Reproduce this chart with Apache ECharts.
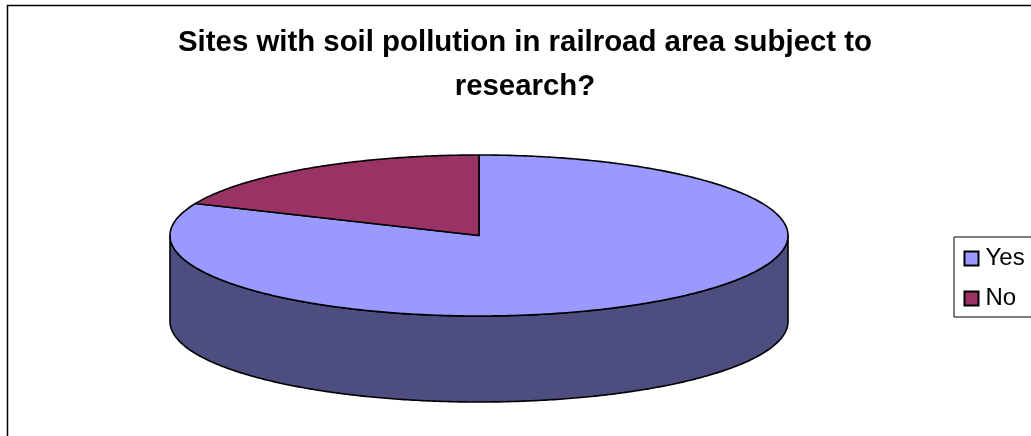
<!DOCTYPE html>
<html>
<head>
<meta charset="utf-8">
<style>html,body{margin:0;padding:0;background:#fff}#c{width:1031px;height:436px}</style>
<script src="https://cdn.jsdelivr.net/npm/echarts@6/dist/echarts.min.js"></script>
</head>
<body>
<div id="c"></div>
<script>
const titleText = 'Sites with soil pollution in railroad area subject to\nresearch?';
const categories = ['Yes', 'No'];
const values = [81.5, 18.5];
const topColors = ['#9999FF', '#993366'];
const wallColor = '#4D4D80';

const cx = 479, cy = 235.5, rx = 309, ry = 80.5, depth = 86;
const total = values.reduce((a, b) => a + b, 0);

function pt(a, dy) {
  return [cx + rx * Math.sin(a), cy + dy - ry * Math.cos(a)];
}
function arc(a0, a1, dy) {
  const n = Math.max(2, Math.ceil(Math.abs(a1 - a0) / 0.01));
  const out = [];
  for (let i = 0; i <= n; i++) out.push(pt(a0 + (a1 - a0) * i / n, dy));
  return out;
}
const sliceStyle = { stroke: '#000', lineWidth: 1.6, lineJoin: 'round' };

function renderSlice(idx) {
  return function () {
    let before = 0;
    for (let i = 0; i < idx; i++) before += values[i];
    const a0 = before / total * 2 * Math.PI;
    const a1 = (before + values[idx]) / total * 2 * Math.PI;
    const children = [];
    const front0 = Math.max(a0, Math.PI / 2), front1 = Math.min(a1, 3 * Math.PI / 2);
    if (front1 > front0) {
      children.push({
        type: 'polygon',
        shape: { points: arc(front0, front1, 0).concat(arc(front1, front0, depth)) },
        style: Object.assign({ fill: wallColor }, sliceStyle)
      });
    }
    children.push({
      type: 'polygon',
      shape: { points: [[cx, cy]].concat(arc(a0, a1, 0)) },
      style: Object.assign({ fill: topColors[idx] }, sliceStyle)
    });
    return { type: 'group', children };
  };
}

const chart = echarts.init(document.getElementById('c'), null, { renderer: 'canvas' });
chart.setOption({
  animation: false,
  backgroundColor: '#fff',
  title: {
    text: titleText, left: 525, top: 21, padding: 0, textAlign: 'center',
    textStyle: { fontFamily: 'Liberation Sans', fontWeight: 'bold', fontSize: 29.4, lineHeight: 44, color: '#000' }
  },
  legend: {
    orient: 'vertical', left: 954, top: 237,
    padding: [9.5, 60, 6.5, 9.5],
    itemWidth: 14, itemHeight: 14, itemGap: 16,
    backgroundColor: '#fff', borderColor: '#000', borderWidth: 1,
    icon: 'rect',
    selectedMode: false,
    textStyle: { fontFamily: 'Liberation Sans', fontSize: 24, color: '#000', padding: [0, 0, 0, 2] },
    data: categories
  },
  graphic: [{
    type: 'rect', z: -1, silent: true,
    shape: { x: 7.5, y: 5.5, width: 1200, height: 600 },
    style: { fill: '#fff', stroke: '#000', lineWidth: 1.5 }
  }],
  series: categories.map((name, i) => ({
    type: 'custom', name, coordinateSystem: 'none', silent: true,
    itemStyle: { color: topColors[i], borderColor: '#000', borderWidth: 1.5 },
    renderItem: renderSlice(i),
    data: [values[i]]
  }))
});
</script>
</body>
</html>
